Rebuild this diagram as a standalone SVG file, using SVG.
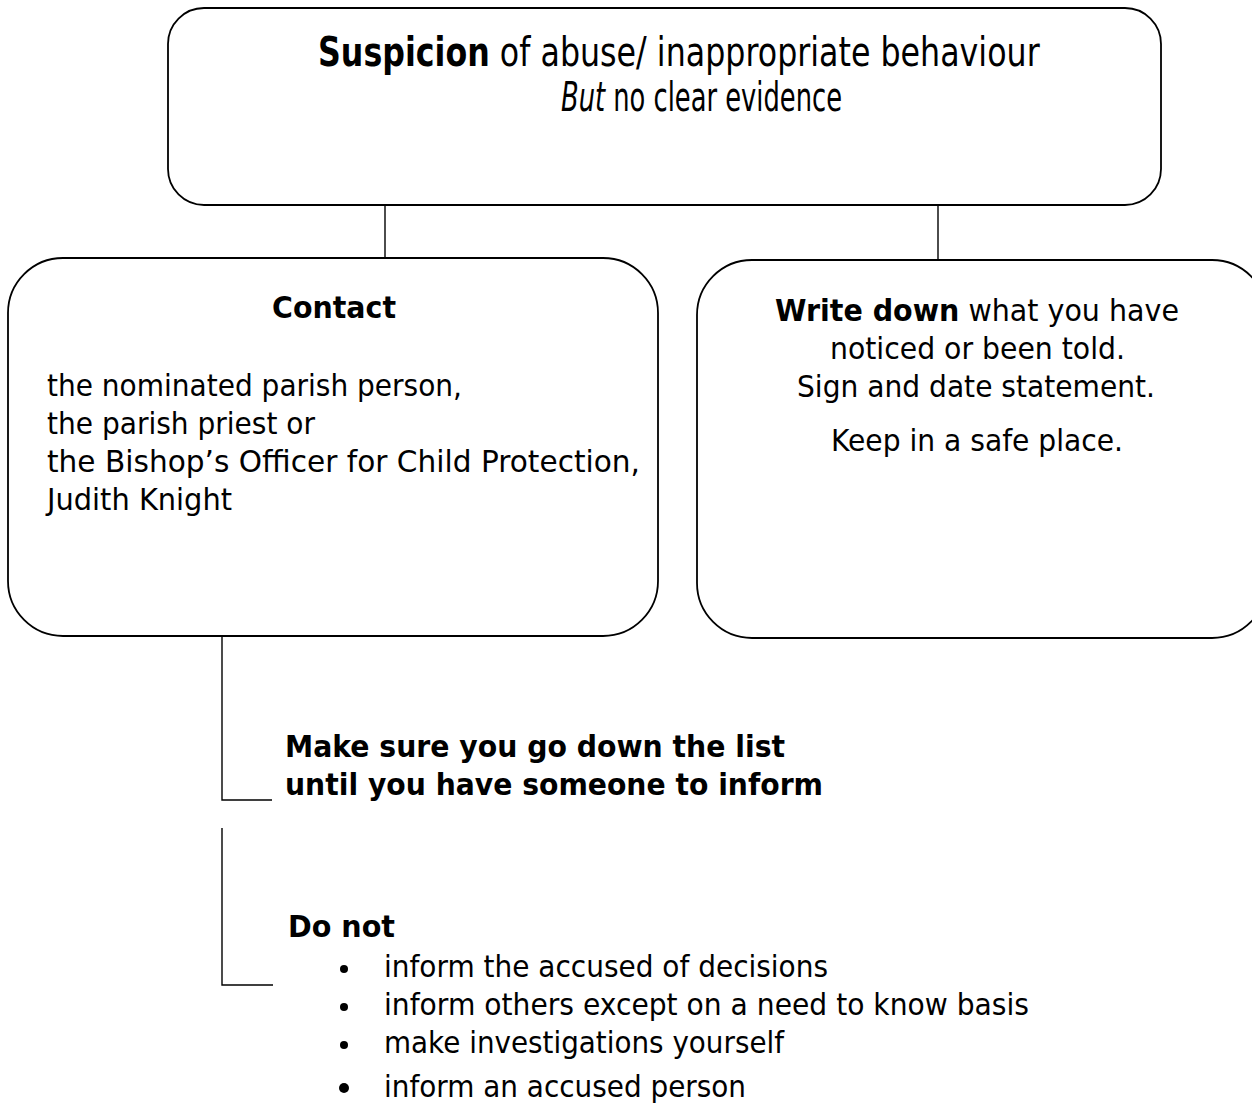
<svg xmlns="http://www.w3.org/2000/svg" width="1252" height="1109" viewBox="0 0 1252 1109">
<style>
.box{fill:#fff;stroke:#000;stroke-width:1.8}
.ln{fill:none;stroke:#000;stroke-width:1.4}
text{font-family:"DejaVu Sans","Liberation Sans",sans-serif;fill:#000}
.t{font-size:40px}
.b{font-size:31px}
.bold{font-weight:bold}
.it{font-style:italic}
</style>
<rect width="1252" height="1109" fill="#fff"/>
<g id="connectors">
<line class="ln" x1="385" y1="205" x2="385" y2="258"/>
<line class="ln" x1="938" y1="205" x2="938" y2="260"/>
<polyline class="ln" points="222,636 222,800 272,800"/>
<polyline class="ln" points="222,828 222,985 273,985"/>
</g>
<g id="node-suspicion">
<rect class="box" x="168" y="8" width="993" height="197" rx="36" ry="36"/>
<text class="t" transform="translate(318,66) scale(0.7,1)" x="0" y="0" textLength="1031" lengthAdjust="spacingAndGlyphs"><tspan class="bold">Suspicion</tspan> of abuse/ inappropriate behaviour</text>
<text class="t" transform="translate(561,111) scale(0.58,1)" x="0" y="0" textLength="484.5" lengthAdjust="spacingAndGlyphs"><tspan class="it">But</tspan> no clear evidence</text>
</g>
<g id="node-contact">
<rect class="box" x="8" y="258" width="650" height="378" rx="55" ry="55"/>
<text class="b bold" x="272" y="318" textLength="124" lengthAdjust="spacingAndGlyphs">Contact</text>
<text class="b" x="47" y="396" textLength="415" lengthAdjust="spacingAndGlyphs">the nominated parish person,</text>
<text class="b" x="47" y="434" textLength="268" lengthAdjust="spacingAndGlyphs">the parish priest or</text>
<text class="b" x="47" y="472" textLength="593" lengthAdjust="spacingAndGlyphs">the Bishop’s Officer for Child Protection,</text>
<text class="b" x="47" y="510" textLength="185" lengthAdjust="spacingAndGlyphs">Judith Knight</text>
</g>
<g id="node-write">
<rect class="box" x="697" y="260" width="570" height="378" rx="55" ry="55"/>
<text class="b" x="775" y="321" textLength="404" lengthAdjust="spacingAndGlyphs"><tspan class="bold">Write down</tspan> what you have</text>
<text class="b" x="830" y="359" textLength="295" lengthAdjust="spacingAndGlyphs">noticed or been told.</text>
<text class="b" x="797" y="397" textLength="358" lengthAdjust="spacingAndGlyphs">Sign and date statement.</text>
<text class="b" x="831" y="451" textLength="292" lengthAdjust="spacingAndGlyphs">Keep in a safe place.</text>
</g>
<g id="node-makesure">
<text class="b bold" x="285" y="757" textLength="500" lengthAdjust="spacingAndGlyphs">Make sure you go down the list</text>
<text class="b bold" x="285" y="795" textLength="538" lengthAdjust="spacingAndGlyphs">until you have someone to inform</text>
</g>
<g id="node-donot">
<text class="b bold" x="288" y="937" textLength="107" lengthAdjust="spacingAndGlyphs">Do not</text>
<circle cx="344" cy="969" r="4"/>
<circle cx="344" cy="1007" r="4"/>
<circle cx="344" cy="1045" r="4"/>
<circle cx="344" cy="1088" r="5"/>
<text class="b" x="384" y="977" textLength="444" lengthAdjust="spacingAndGlyphs">inform the accused of decisions</text>
<text class="b" x="384" y="1015" textLength="645" lengthAdjust="spacingAndGlyphs">inform others except on a need to know basis</text>
<text class="b" x="384" y="1053" textLength="400" lengthAdjust="spacingAndGlyphs">make investigations yourself</text>
<text class="b" x="384" y="1097" textLength="362" lengthAdjust="spacingAndGlyphs">inform an accused person</text>
</g>
</svg>
